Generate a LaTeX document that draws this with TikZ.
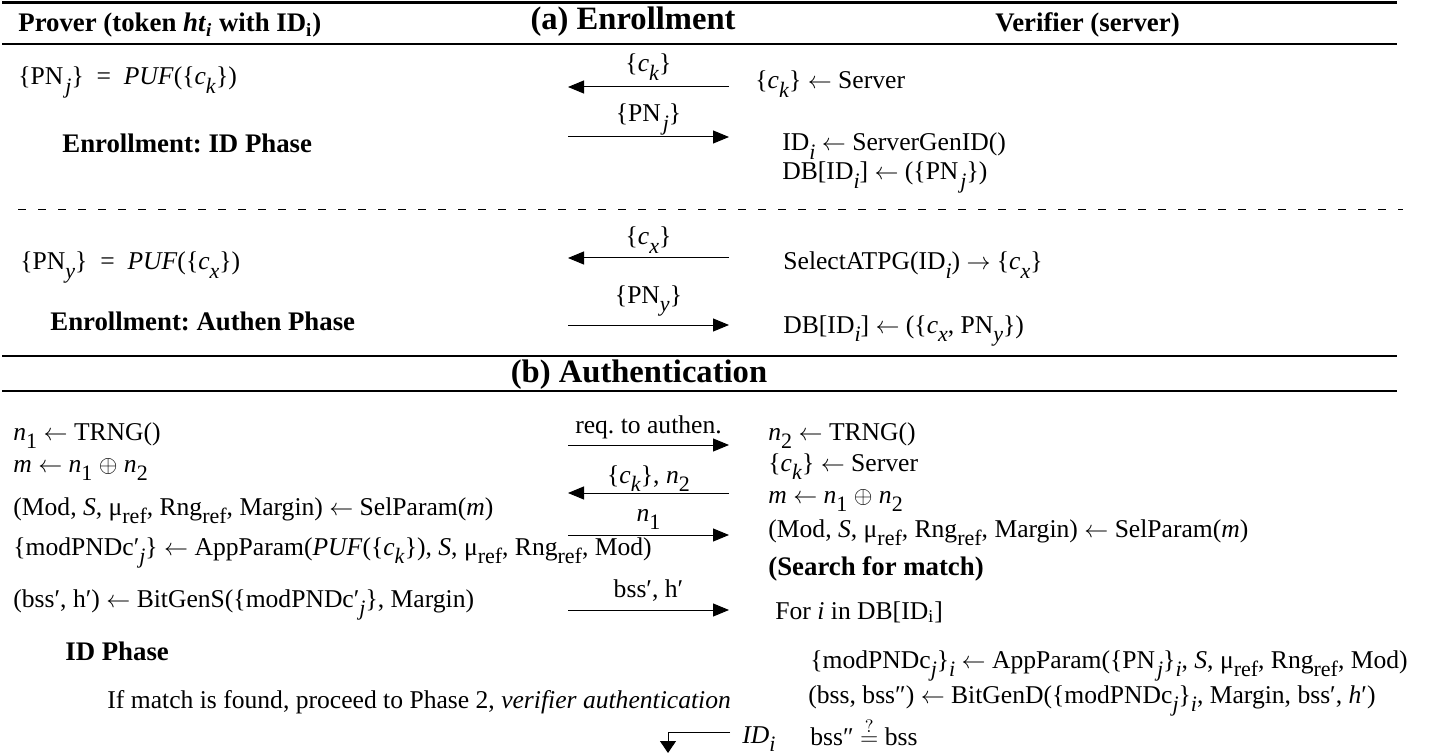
\documentclass[tikz,border=0pt]{standalone}
\usepackage{fontspec}
\setmainfont{Liberation Serif}
\usetikzlibrary{arrows.meta}
\frenchspacing
\newcommand{\lw}[1]{\raisebox{-0.7ex}{\fontsize{11}{12}\selectfont #1}}
\tikzset{
	txt/.style={anchor=base west, inner sep=0pt, font=\fontsize{12.8}{14}\selectfont},
	hdr/.style={anchor=base west, inner sep=0pt, font=\bfseries\fontsize{13.4}{15}\selectfont},
	sec/.style={anchor=base, inner sep=0pt, font=\bfseries\fontsize{16.3}{18}\selectfont},
	msg/.style={line width=0.5pt, -{Triangle[length=8pt,width=6.5pt]}},
	lab/.style={midway, anchor=base, inner sep=0pt, font=\fontsize{12.8}{14}\selectfont, yshift=#1},
	bar/.style={line width=1.1pt}
}
\begin{document}
\begin{tikzpicture}[x=0.5pt, y=-0.5pt]
		\useasboundingbox (0,0) rectangle (1429,754);
		
		\draw[line width=1.5pt] (2,3) -- (1397,3);
		\draw[bar] (2,44) -- (1397,44);
		\draw[line width=0.5pt, dash pattern=on 4pt off 6pt] (18,210) -- (1403,210);
		\draw[bar] (2,356) -- (1397,356);
		\draw[bar] (2,391) -- (1397,391);
		
		\node[hdr] (prv) at (18,32) {Prover (token \textit{ht}\textsubscript{\textit{i}} with ID\textsubscript{i})};
		\node[sec] (enr) at (633,30) {(a) Enrollment};
		\node[hdr] (ver) at (995,32) {Verifier (server)};
		
		\node[txt] (p1) at (18,85) {\{PN\lw{\kern1pt\textit{j}}\}~ = ~\textit{PUF}(\{\textit{c}\lw{\textit{k}}\})};
		\node[hdr] (p2) at (62,153) {Enrollment: ID Phase};
		\node[txt] (v1) at (755,89) {\{\textit{c}\lw{\textit{k}}\} $\leftarrow$ Server};
		\node[txt] (v2) at (782,151) {ID\lw{\textit{i}} $\leftarrow$ ServerGenID()};
		\node[txt] (v3) at (782,180) {DB[ID\lw{\textit{i}}] $\leftarrow$ (\{PN\lw{\kern1pt\textit{j}}\})};
		
		\coordinate (e1p) at (568,87);
		\coordinate (e1v) at (729,87);
		\coordinate (e2p) at (568,137);
		\coordinate (e2v) at (729,137);
		\draw[msg] (e1v) -- (e1p) node[lab=7.5pt] {\{\textit{c}\lw{\textit{k}}\}};
		\draw[msg] (e2p) -- (e2v) node[lab=7.5pt] {\{PN\lw{\kern1pt\textit{j}}\}};
		
		\node[txt] (p3) at (20,270) {\{PN\lw{\textit{y}}\}~ = ~\textit{PUF}(\{\textit{c}\lw{\textit{x}}\})};
		\node[hdr] (p4) at (50,330) {Enrollment: Authen Phase};
		\node[txt] (v4) at (783,270) {SelectATPG(ID\lw{\textit{i}}) $\rightarrow$ \{\textit{c}\lw{\textit{x}}\}};
		\node[txt] (v5) at (783,333) {DB[ID\lw{\textit{i}}] $\leftarrow$ (\{\textit{c}\lw{\textit{x}}, PN\lw{\textit{y}}\})};
		
		\coordinate (e3p) at (568,258);
		\coordinate (e3v) at (729,258);
		\coordinate (e4p) at (568,325);
		\coordinate (e4v) at (729,325);
		\draw[msg] (e3v) -- (e3p) node[lab=6.5pt] {\{\textit{c}\lw{\textit{x}}\}};
		\draw[msg] (e4p) -- (e4v) node[lab=11pt] {\{PN\lw{\textit{y}}\}};
		
		\node[sec] (auth) at (639,382) {(b) Authentication};
		
		\node[txt] (q1) at (13,440) {\textit{n}\lw{1} $\leftarrow$ TRNG()};
		\node[txt] (q2) at (13,472) {\textit{m} $\leftarrow$ \textit{n}\lw{1} $\oplus$ \textit{n}\lw{2}};
		\node[txt] (q3) at (13,515) {(Mod, \textit{S}, μ\lw{ref}, Rng\lw{ref}, Margin) $\leftarrow$ SelParam(\textit{m})};
		\node[txt] (q4) at (13,555) {\{modPNDc′\lw{\textit{j}}\} $\leftarrow$ AppParam(\textit{PUF}(\{\textit{c}\lw{\textit{k}}\}), \textit{S}, μ\lw{ref}, Rng\lw{ref}, Mod)};
		\node[txt] (q5) at (13,607) {(bss′, h′) $\leftarrow$ BitGenS(\{modPNDc′\lw{\textit{j}}\}, Margin)};
		\node[hdr] (q6) at (65,660) {ID Phase};
		\node[txt] (q7) at (107,708) {If match is found, proceed to Phase 2, \textit{verifier authentication}};
		
		\node[txt] (w1) at (768,440) {\textit{n}\lw{2} $\leftarrow$ TRNG()};
		\node[txt] (w2) at (768,471) {\{\textit{c}\lw{\textit{k}}\} $\leftarrow$ Server};
		\node[txt] (w3) at (768,503) {\textit{m} $\leftarrow$ \textit{n}\lw{1} $\oplus$ \textit{n}\lw{2}};
		\node[txt] (w4) at (768,537) {(Mod, \textit{S}, μ\lw{ref}, Rng\lw{ref}, Margin) $\leftarrow$ SelParam(\textit{m})};
		\node[hdr] (w5) at (768,575) {(Search for match)};
		\node[txt] (w6) at (775,619) {For \textit{i} in DB[ID\textsubscript{i}]};
		\node[txt] (w7) at (810,668) {\{modPNDc\lw{\textit{j}}\}\lw{\textit{i}} $\leftarrow$ AppParam(\{PN\lw{\kern1pt\textit{j}}\}\lw{\textit{i}}, \textit{S}, μ\lw{ref}, Rng\lw{ref}, Mod)};
		\node[txt] (w8) at (808,703) {(bss, bss″) $\leftarrow$ BitGenD(\{modPNDc\lw{\textit{j}}\}\lw{\textit{i}}, Margin, bss′, \textit{h}′)};
		\node[txt] (w9) at (810,745) {bss″ $\stackrel{?}{=}$ bss};
		
		\coordinate (b1p) at (568,445);
		\coordinate (b1v) at (729,445);
		\coordinate (b2p) at (568,493);
		\coordinate (b2v) at (729,493);
		\coordinate (b3p) at (568,535);
		\coordinate (b3v) at (729,535);
		\coordinate (b4p) at (568,610);
		\coordinate (b4v) at (729,610);
		\draw[msg] (b1p) -- (b1v) node[lab=6pt] {req. to authen.};
		\draw[msg] (b2v) -- (b2p) node[lab=5pt] {\{\textit{c}\lw{\textit{k}}\}, \textit{n}\lw{2}};
		\draw[msg] (b3p) -- (b3v) node[lab=7pt] {\textit{n}\lw{1}};
		\draw[msg] (b4p) -- (b4v) node[lab=6.5pt] {bss′, h′};
		
		\coordinate (r5a) at (730,732);
		\coordinate (r5b) at (668,732);
		\coordinate (r5c) at (668,753);
		\draw[line width=0.5pt, -{Triangle[length=6pt,width=8pt]}] (r5a) -- (r5b) -- (r5c);
		\node[txt] (idl) at (742,743) {\textit{ID}\lw{\textit{i}}};
	\end{tikzpicture}
\end{document}
